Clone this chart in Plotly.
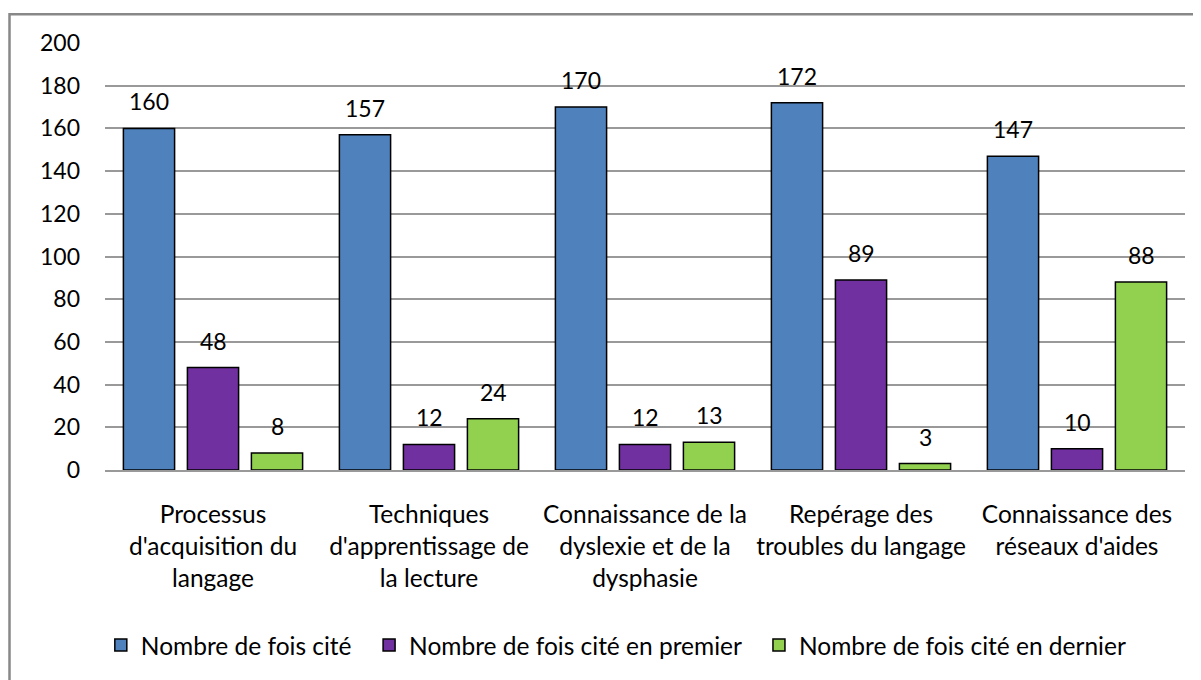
import plotly.graph_objects as go

categories = [
    "Processus<br>d'acquisition du<br>langage",
    "Techniques<br>d'apprentissage de<br>la lecture",
    "Connaissance de la<br>dyslexie et de la<br>dysphasie",
    "Repérage des<br>troubles du langage",
    "Connaissance des<br>réseaux d'aides",
]
series_names = [
    "Nombre de fois cité",
    "Nombre de fois cité en premier",
    "Nombre de fois cité en dernier",
]
cite_total = [160, 157, 170, 172, 147]
cite_premier = [48, 12, 12, 89, 10]
cite_dernier = [8, 24, 13, 3, 88]
colors = ["#4F81BD", "#7030A0", "#92D050"]

FONT = "Lato, 'Open Sans', sans-serif"
FS_NUM = 23
FS_TXT = 24.5
FS_LEG = 24.5
PAD = "\u00a0\u00a0"

series = [cite_total, cite_premier, cite_dernier]
fig = go.Figure()
for name, vals, col in zip(series_names, series, colors):
    fig.add_trace(go.Bar(
        x=categories, y=vals, name=name + PAD,
        marker=dict(color=col, line=dict(color="black", width=1.5)),
    ))

# page body has an 8px margin: figure is offset by (8, 8)
W, H = 1193, 672
L, R, T, B = 97, 16, 35, 208
plot_h = H - T - B
plot_w = W - L - R
cat_w = plot_w / len(categories)
bargap = 0.111
slot = (1 - bargap) * cat_w / 3
annotations = []
for i, vals in enumerate(series):
    for c, v in zip(categories, vals):
        annotations.append(dict(
            x=c, y=v, xref="x", yref="y", text=str(v), showarrow=False,
            xshift=(i - 1) * slot, yanchor="bottom", yshift=11,
            font=dict(family=FONT, size=FS_NUM, color="black"),
        ))

fig.update_layout(
    width=W, height=H,
    margin=dict(l=L, r=R, t=T, b=B),
    paper_bgcolor="white", plot_bgcolor="white",
    barmode="group", bargap=bargap, bargroupgap=0.2,
    font=dict(family=FONT, size=FS_TXT, color="black"),
    showlegend=True,
    legend=dict(orientation="h", x=0.479, xanchor="center", y=-0.41, yanchor="middle",
                font=dict(family=FONT, size=FS_LEG), itemwidth=30, traceorder="normal"),
    annotations=annotations,
    xaxis=dict(showline=True, linecolor="#999999", linewidth=2, ticks="",
               ticklabelstandoff=22,
               tickfont=dict(family=FONT, size=FS_TXT), fixedrange=True),
    yaxis=dict(range=[0, 200], dtick=20, showgrid=True, gridcolor="#999999", gridwidth=1.5,
               zeroline=False, showline=False, ticks="", ticklabelstandoff=24,
               tickfont=dict(family=FONT, size=FS_NUM)),
    shapes=[dict(type="rect", xref="paper", yref="paper",
                 x0=(1.5 - L) / plot_w, x1=1.05,
                 y0=-0.6, y1=(H - B - 6) / plot_h,
                 line=dict(color="#888888", width=2.5), fillcolor="rgba(0,0,0,0)", layer="below")],
)

fig.write_html("out.html")
